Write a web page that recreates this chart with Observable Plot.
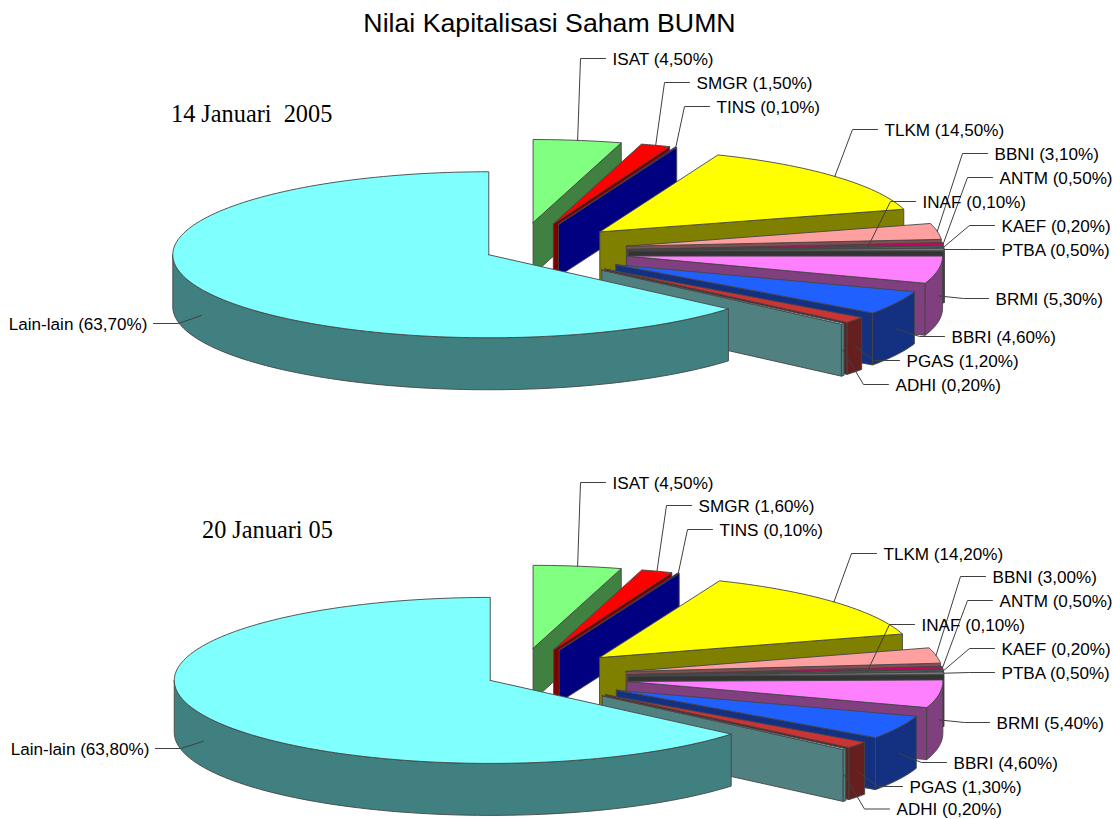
<!DOCTYPE html>
<html>
<head>
<meta charset="utf-8">
<script src="https://cdn.jsdelivr.net/npm/d3@7"></script>
<script src="https://cdn.jsdelivr.net/npm/@observablehq/plot@0.6"></script>
<style>
html,body{margin:0;padding:0;background:#fff}
#title{height:40px;width:1113px;text-align:center;font:26.7px/46px "Liberation Sans",Arial,sans-serif;color:#000;padding-right:14px;box-sizing:border-box;white-space:nowrap}
svg{display:block}
</style>
</head>
<body>
<div id="title">Nilai Kapitalisasi Saham BUMN</div>
<div id="chart"></div>
<script>
// ---- data (clockwise from 12 o'clock) ----
const names   = ["ISAT","SMGR","TINS","TLKM","BBNI","ANTM","INAF","KAEF","PTBA","BRMI","BBRI","PGAS","ADHI","Lain-lain"];
const values1 = [4.5,1.5,0.1,14.5,3.1,0.5,0.1,0.2,0.5,5.3,4.6,1.2,0.2,63.7];
const values2 = [4.5,1.6,0.1,14.2,3.0,0.5,0.1,0.2,0.5,5.4,4.6,1.3,0.2,63.8];
const heading1 = "14 Januari \u00a02005";
const heading2 = "20 Januari 05";

// ---- styles ----
const topColors  = ["#80ff80","#ff0000","#000080","#ffff00","#ffa0a0","#cc0066","#e0e060","#60c0c0","#777777","#ff80ff","#2060ff","#cc3333","#a0ffff","#80ffff"];
const wallColors = ["#408040","#800000","#000080","#808000","#805050","#660033","#707030","#306060","#333333","#804080","#143080","#661f1f","#508080","#408080"];

// ---- layout ----
const leaderReach = names.map(n => n === "INAF" ? 0.76 : 1);
const pieA = {cx:517, cy:250.8, rest:0.1};
const pieB = {cx:517, cy:676.6, rest:0.095};
const R = 316, r = 83, depth = 52;
const labelXA = [612,696,716,884,994,999,922,1001,1001,995,951,906,895,147];
const labelYA = [59,83,107,130,154,178,202,226,250,299,337,361,385,324];
const labelXB = [612,698,719,883,992,999,921,1001,1001,996,953,909,896,149];
const labelYB = [483,506,530,554,577,601,625,649,673,723,763,787,809.5,749];
const headingA = {x:170.5, y:114};
const headingB = {x:201.5, y:530};
const titleH = 40;

const rad = d => d * Math.PI / 180;
function pie(values, c, labelX, labelY, tag) {
  const polys = [], leaders = [], labels = [];
  let acc = 0;
  const add = (id, color, pts) => {
    [...pts, pts[0]].forEach(p => polys.push({id: tag + id, color, px: p[0], py: p[1]}));
  };
  values.forEach((v, i) => {
    const a0 = acc * 3.6, a1 = (acc + v) * 3.6, mid = (a0 + a1) / 2;
    acc += v;
    const e = names[i] === "Lain-lain" ? c.rest : 0.35;
    const ax = c.cx + e * R * Math.sin(rad(mid));
    const ay = c.cy - e * r * Math.cos(rad(mid));
    const pt = (a, d = 0) => [ax + R * Math.sin(rad(a)), ay - r * Math.cos(rad(a)) + d];
    const arc = (s, t) => {
      const n = Math.max(1, Math.ceil((t - s) / 1.5));
      return d3.range(n + 1).map(k => s + (t - s) * k / n);
    };
    // end face
    if (a1 < 180) add(i + "e", wallColors[i], [[ax, ay], pt(a1), pt(a1, depth), [ax, ay + depth]]);
    // outer wall
    const ws = Math.max(a0, 90), we = Math.min(a1, 270);
    if (we > ws) {
      const as = arc(ws, we);
      add(i + "w", wallColors[i], [...as.map(a => pt(a)), ...as.slice().reverse().map(a => pt(a, depth))]);
    }
    // top face
    add(i + "t", topColors[i], [[ax, ay], ...arc(a0, a1).map(a => pt(a))]);
    // leader & label
    const lower = mid > 90 && mid < 270;
    const f = leaderReach[i];
    const end = [ax + f * R * Math.sin(rad(mid)), ay - f * r * Math.cos(rad(mid)) + (lower ? depth / 2 : 0)];
    const left = i === values.length - 1;
    const sx = left ? labelX[i] + 6 : labelX[i] - 7;
    const ex = left ? sx + 25 : sx - 25;
    [[sx, labelY[i] - 1], [ex, labelY[i] - 1], end].forEach(p => leaders.push({id: tag + i, px: p[0], py: p[1]}));
    labels.push({
      px: labelX[i], py: labelY[i],
      text: `${names[i]} (${v.toFixed(2).replace(".", ",")}%)`,
      anchor: left ? "end" : "start"
    });
  });
  return {polys, leaders, labels};
}

const A = pie(values1, pieA, labelXA, labelYA, "a");
const B = pie(values2, pieB, labelXB, labelYB, "b");
const polys = [...A.polys, ...B.polys];
const leaders = [...A.leaders, ...B.leaders];
const labels = [...A.labels, ...B.labels];
const headings = [{...headingA, text: heading1}, {...headingB, text: heading2}];

const plot = Plot.plot({
  width: 1113, height: 819 - titleH,
  margin: 0,
  style: {background: "#fff"},
  x: {domain: [0, 1113], range: [0, 1113], axis: null},
  y: {domain: [titleH, 819], range: [0, 819 - titleH], axis: null},
  color: {type: "identity"},
  marks: [
    Plot.line(polys, {x: "px", y: "py", z: "id", fill: "color", stroke: "#454545", strokeWidth: 0.9, curve: "linear", strokeLinejoin: "round"}),
    Plot.line(leaders, {x: "px", y: "py", z: "id", stroke: "#404040", strokeWidth: 1, curve: "linear"}),
    Plot.text(labels.filter(d => d.anchor === "start"), {x: "px", y: "py", text: "text", textAnchor: "start", fontSize: 17.1, fontFamily: "Liberation Sans, Arial, sans-serif", fill: "#000"}),
    Plot.text(labels.filter(d => d.anchor === "end"), {x: "px", y: "py", text: "text", textAnchor: "end", fontSize: 17.1, fontFamily: "Liberation Sans, Arial, sans-serif", fill: "#000"}),
    Plot.text(headings, {x: "x", y: "y", text: "text", textAnchor: "start", fontSize: 24.3, fontFamily: "Liberation Serif, Times New Roman, serif", fill: "#000"})
  ]
});
document.getElementById("chart").appendChild(plot);
</script>
</body>
</html>
